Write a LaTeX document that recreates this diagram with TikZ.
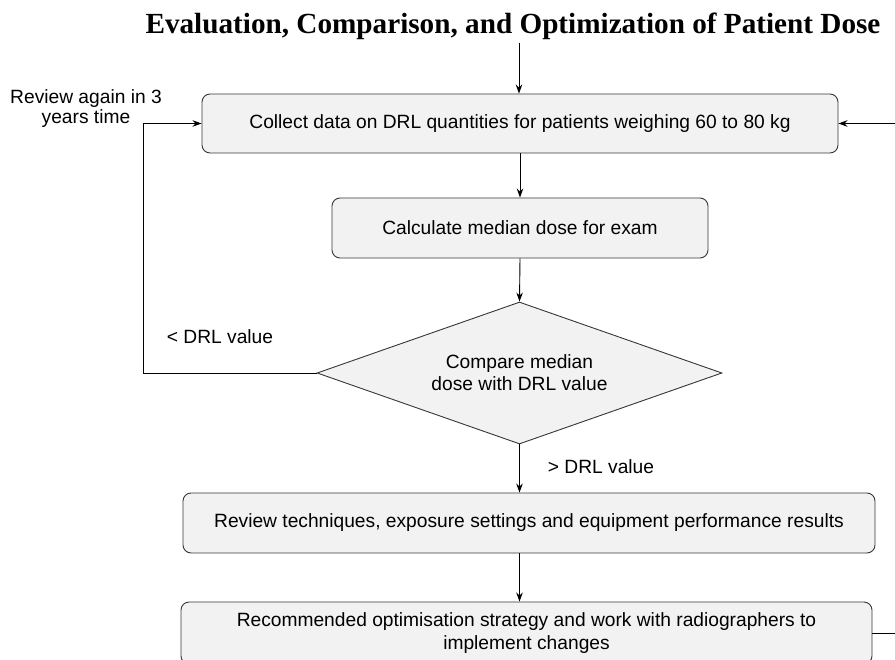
\documentclass[tikz,border=0pt]{standalone}
\usepackage{fontspec}
\setmainfont{Liberation Sans}
\newfontfamily\titlefont{Liberation Serif}
\usetikzlibrary{arrows.meta, shapes.geometric}
\definecolor{boxgray}{RGB}{242,242,242}
\definecolor{edgegray}{RGB}{55,55,55}

\begin{document}
\begin{tikzpicture}[x=1pt, y=-1pt,
        procbox/.style={draw=edgegray, line width=0.9pt, rounded corners=8pt, fill=boxgray, inner sep=0pt, align=center, font=\fontsize{19.2}{23}\selectfont},
        decide/.style={diamond, draw=edgegray, line width=0.9pt, fill=boxgray, aspect=2.85, inner sep=0pt, minimum width=405pt, minimum height=142pt, align=center, font=\fontsize{19.2}{22}\selectfont},
        lbl/.style={inner sep=0pt, align=center, font=\fontsize{19.2}{20}\selectfont},
        flow/.style={-{Stealth[length=9pt, width=6.5pt]}, line width=0.9pt}]
        \useasboundingbox (0,0) rectangle (895,660);

        \node[anchor=base, inner sep=0pt, font=\titlefont\bfseries\fontsize{29.2}{31}\selectfont] (title) at (513,34) {Evaluation, Comparison, and Optimization of Patient Dose};

        \node[procbox, minimum width=636pt, minimum height=59pt] (collect) at (520,123.5) {Collect data on DRL quantities for patients weighing 60 to 80 kg};
        \node[procbox, minimum width=376pt, minimum height=60pt] (calc) at (520,228) {Calculate median dose for exam};
        \node[decide] (comp) at (519.5,373) {Compare median\\dose with DRL value};
        \node[procbox, minimum width=692pt, minimum height=60pt] (review) at (529,523) {Review techniques, exposure settings and equipment performance results};
        \node[procbox, minimum width=691pt, minimum height=62pt] (recom) at (526.5,633) {Recommended optimisation strategy and work with radiographers to\\implement changes};

        \node[lbl] (again) at (86,109) {Review again in 3\\years time};
        \node[lbl] (lower) at (220,337) {< DRL value};
        \node[lbl] (higher) at (601,467) {> DRL value};

        \coordinate (entry) at (519,43);
        \coordinate (lline) at (143,0);
        \coordinate (rline) at (915,0);

        \draw[flow] (entry) -- (entry |- collect.north);
        \draw[flow] (collect.south) -- (calc.north);
        \draw[flow] (calc.south) -- (comp.north);
        \draw[flow] (comp.south) -- (comp.south |- review.north);
        \draw[flow] (comp.south |- review.south) -- (comp.south |- recom.north);
        \draw[flow] (comp.west) -- (comp.west -| lline) |- (collect.west);
        \draw[flow] (recom.east) -- (recom.east -| rline) |- (collect.east);
    \end{tikzpicture}
\end{document}
